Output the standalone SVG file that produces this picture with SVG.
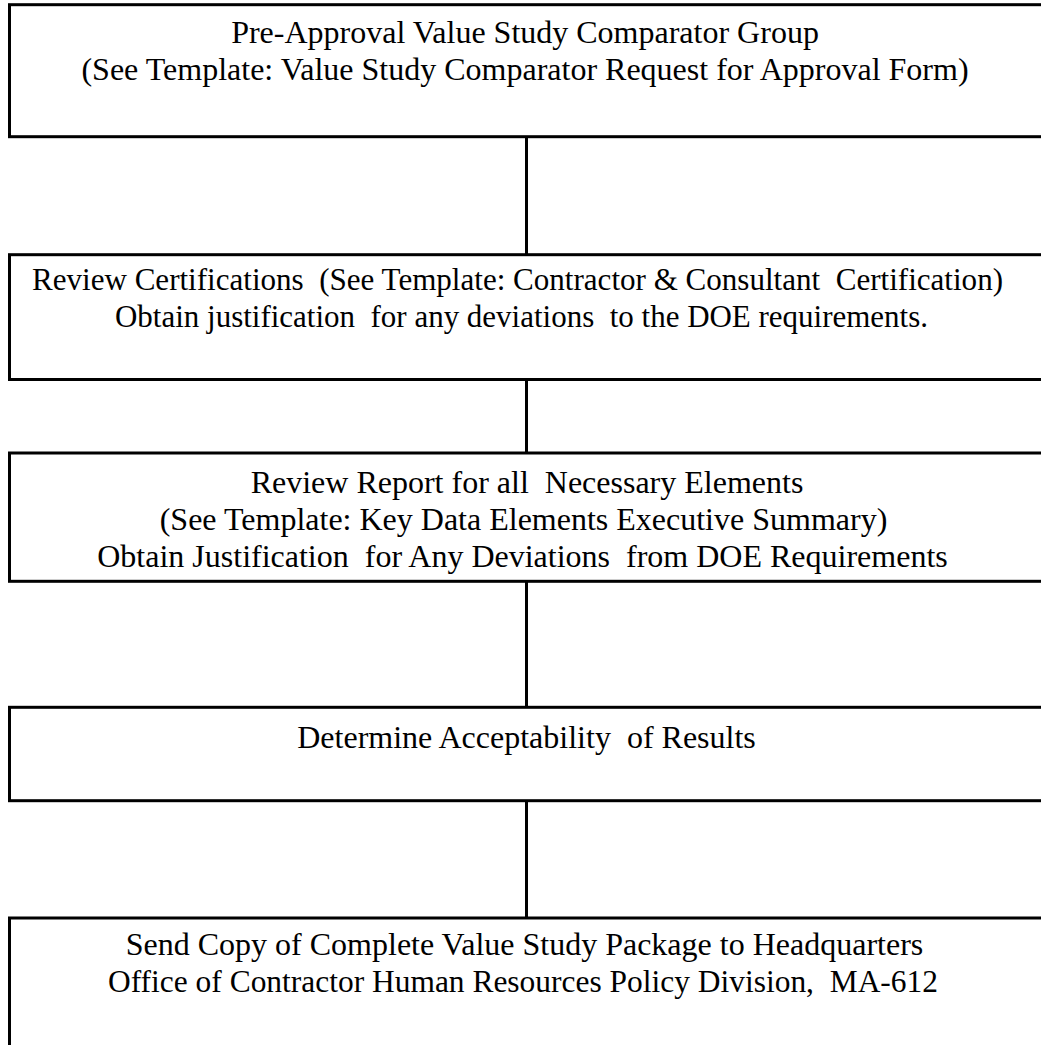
<svg xmlns="http://www.w3.org/2000/svg" width="1041" height="1045" viewBox="0 0 1041 1045">
<style>
.box{fill:#fff;stroke:#000;stroke-width:3}
.conn{stroke:#000;stroke-width:3;fill:none}
text{font-family:"Liberation Serif","Times New Roman",serif;font-size:32px;fill:#000;text-anchor:middle;white-space:pre}
</style>
<rect width="1041" height="1045" fill="#fff"/>
<g id="connectors">
<line class="conn" x1="526.5" y1="136.7" x2="526.5" y2="254.7"/>
<line class="conn" x1="526.5" y1="379.5" x2="526.5" y2="453"/>
<line class="conn" x1="526.5" y1="581.3" x2="526.5" y2="707.3"/>
<line class="conn" x1="526.5" y1="800.7" x2="526.5" y2="918"/>
</g>
<g id="node1">
<rect class="box" x="9.5" y="4.7" width="1040" height="132"/>
<text x="525" y="43">Pre-Approval Value Study Comparator Group</text>
<text x="525" y="80">(See Template: Value Study Comparator Request for Approval Form)</text>
</g>
<g id="node2">
<rect class="box" x="9.5" y="254.7" width="1040" height="124.8"/>
<text x="517.5" y="290" xml:space="preserve" textLength="971" lengthAdjust="spacingAndGlyphs">Review Certifications  (See Template: Contractor &amp; Consultant  Certification)</text>
<text x="521.5" y="327" xml:space="preserve" textLength="813" lengthAdjust="spacingAndGlyphs">Obtain justification  for any deviations  to the DOE requirements.</text>
</g>
<g id="node3">
<rect class="box" x="9.5" y="453" width="1040" height="128.3"/>
<text x="527" y="493" xml:space="preserve">Review Report for all  Necessary Elements</text>
<text x="523.5" y="530">(See Template: Key Data Elements Executive Summary)</text>
<text x="522.5" y="567" xml:space="preserve">Obtain Justification  for Any Deviations  from DOE Requirements</text>
</g>
<g id="node4">
<rect class="box" x="9.5" y="707.3" width="1040" height="93.4"/>
<text x="526.5" y="748" xml:space="preserve">Determine Acceptability  of Results</text>
</g>
<g id="node5">
<rect class="box" x="9.5" y="918" width="1040" height="200"/>
<text x="524.5" y="955">Send Copy of Complete Value Study Package to Headquarters</text>
<text x="523" y="992" xml:space="preserve" textLength="830" lengthAdjust="spacingAndGlyphs">Office of Contractor Human Resources Policy Division,  MA-612</text>
</g>
</svg>
